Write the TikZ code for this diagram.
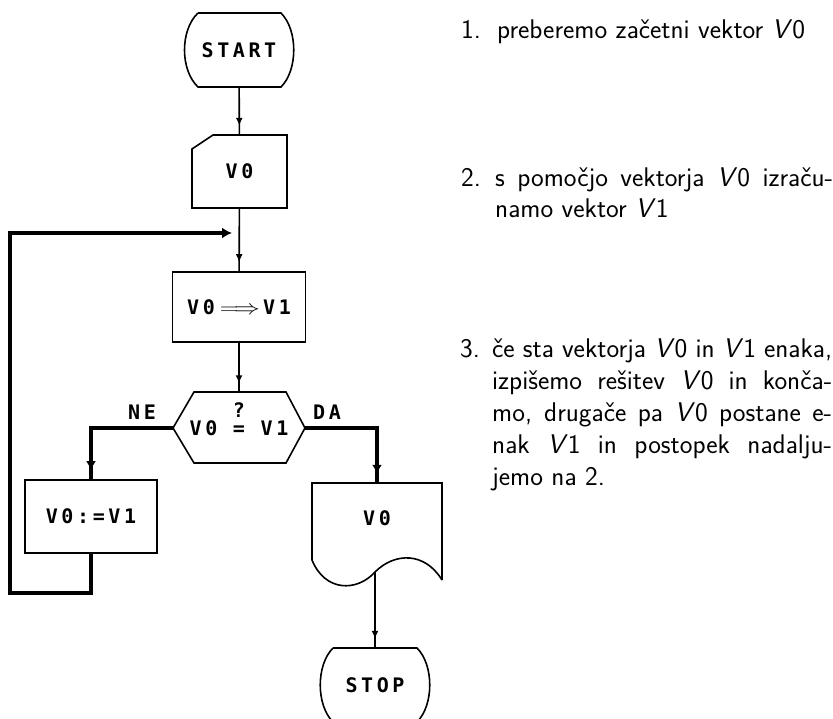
\documentclass[tikz,border=0pt]{standalone}
\usepackage{fontspec}
\newfontfamily\dotfont[LetterSpace=18]{DejaVu Sans Mono}
\usetikzlibrary{arrows.meta,decorations.markings}
\newcommand{\vek}[1]{\textit{V}#1}
\tikzset{
  blk/.style={inner sep=0pt, font={\dotfont\bfseries\fontsize{20}{20}\selectfont}},
  box/.style={blk, draw, line width=1.6pt},
  flow/.style={line width=1.6pt, postaction={decorate},
    decoration={markings, mark=at position -9pt with {\arrow{Latex[length=8pt,width=7pt]}}}},
  branch/.style={line width=3.6pt, postaction={decorate},
    decoration={markings, mark=at position -9pt with {\arrow{Latex[length=9pt,width=10pt]}}}},
  loopback/.style={line width=3.6pt, -{Latex[length=10pt,width=11pt]}},
  itemtext/.style={inner sep=0pt, anchor=base west, font={\sffamily\fontsize{27}{32}\selectfont}},
}
\begin{document}
\begin{tikzpicture}[x=1pt,y=-1pt]
\useasboundingbox (0,0) rectangle (833,719);
\clip (0,0) rectangle (833,719);

% flowchart blocks
\node[blk, minimum width=112pt, minimum height=74pt] (start) at (239,50) {START};
\draw[line width=1.6pt] (198,13) -- (281,13) .. controls (298,30) and (298,70) .. (281,87)
  -- (198,87) .. controls (180,70) and (180,30) .. (198,13);

\node[blk, minimum width=95pt, minimum height=73pt] (v0in) at (239.5,171.5) {V0};
\draw[line width=1.6pt] (192,149) -- (213,135) -- (287,135) -- (287,208) -- (192,208) -- cycle;

\node[box, minimum width=133pt, minimum height=70pt] (calc) at (239,307)
  {V0\kern5pt\scalebox{1.25}[1]{$\Longrightarrow$}\kern3pt V1};

\node[blk, minimum width=132pt, minimum height=71pt] (test) at (239,428) {V0 = V1};
\node[blk] (qmark) at (239,410) {?};
\draw[line width=1.6pt] (173,428) -- (194,392) -- (286,392) -- (305,428) -- (286,463) -- (194,463) -- cycle;

\node[box, minimum width=132pt, minimum height=73pt] (noagain) at (91,516.5) {V0:=V1};

\node[blk, minimum width=130pt, minimum height=70pt] (out) at (377,518) {V0};
\draw[line width=1.6pt] (442,580) -- (442,483) -- (312,483) -- (312,560)
  .. controls (325,592) and (357,592) .. (375,572) .. controls (395,552) and (425,552) .. (442,580);
\coordinate (outwave) at (375,572);

\node[blk, minimum width=115pt, minimum height=74pt] (stop) at (375,685) {STOP};
\draw[line width=1.6pt] (333,648) -- (417,648) .. controls (434,665) and (434,705) .. (417,722)
  -- (333,722) .. controls (316,705) and (316,665) .. (333,648);

% branch labels
\node[blk] (ne) at (142,412) {NE};
\node[blk] (da) at (327,412) {DA};

% connectors
\coordinate (back) at (232,233);
\draw[flow] (start) -- (v0in);
\draw[flow] (v0in) -- (calc);
\draw[flow] (calc) -- (test);
\draw[branch] (test.west) -| (noagain.north);
\draw[branch] (test.east) -| (out.north);
\draw[flow] (outwave) -- (stop.north);
\draw[loopback] (noagain.south) -- ++(0,39) -| (10,233) -- (back);

% explanation
\node[itemtext] (numone) at (461,39) {1.};
\node[itemtext] (stepone) at (497,39) {preberemo začetni vektor \vek0};
\node[itemtext] (numtwo) at (461,187) {2.};
\node[itemtext, text width=338pt, align=justify, font={\sffamily\fontsize{27}{30.5}\selectfont}] (steptwo) at (495,187)
  {s pomočjo vektorja \vek0 izraču-\linebreak namo vektor \vek1};
\node[itemtext] (numthree) at (460,358) {3.};
\node[itemtext, text width=340pt, align=justify] (stepthree) at (492,358)
  {če sta vektorja \vek0 in \vek1 enaka,\linebreak izpišemo rešitev \vek0 in konča-\linebreak
   mo, drugače pa \vek0 postane e-\linebreak nak \vek1 in postopek nadalju-\linebreak jemo na 2.};
\end{tikzpicture}
\end{document}
